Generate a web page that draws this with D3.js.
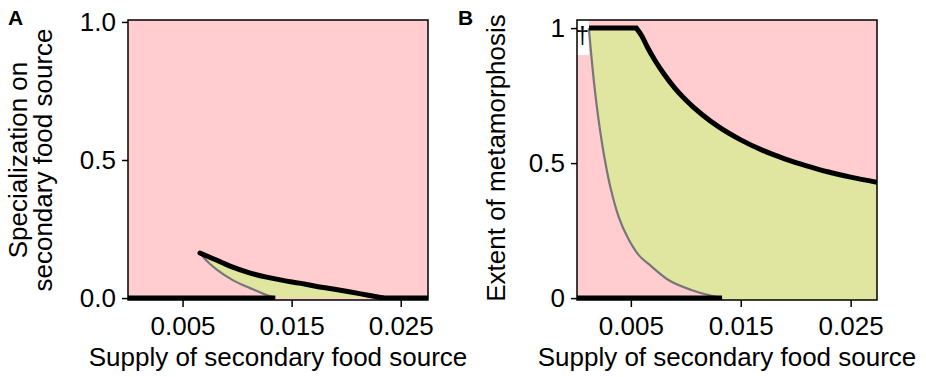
<!DOCTYPE html>
<html>
<head>
<meta charset="utf-8">
<script src="https://cdn.jsdelivr.net/npm/d3@7"></script>
<style>
  html, body { margin: 0; padding: 0; background: #fff; }
  svg text { font-family: "Liberation Sans", Arial, sans-serif; fill: #000; }
</style>
</head>
<body>
<svg id="chart" width="926" height="377"></svg>
<script>
// Panel A: specialization on the secondary food source vs. its supply
const supplyA_upper = [0.0066, 0.0075, 0.0087, 0.0096, 0.0110, 0.0127, 0.0142, 0.0157, 0.0172, 0.0188, 0.0204, 0.0219, 0.0234];
const specA_upper   = [0.163, 0.148, 0.127, 0.112, 0.093, 0.076, 0.064, 0.054, 0.043, 0.033, 0.022, 0.011, 0.0];
const supplyA_lower = [0.0066, 0.0069, 0.0075, 0.0082, 0.0096, 0.0112, 0.0127, 0.0135];
const specA_lower   = [0.163, 0.149, 0.124, 0.101, 0.065, 0.036, 0.011, 0.0];
// stable generalist (specialization = 0) segments
const specA_zeroSegments = [[0, 0.0135], [0.0232, 0.0275]];

// Panel B: extent of metamorphosis vs. supply
const supplyB_flat = [0.0012, 0.0055];
const metaB_flat   = [1.0, 1.0];
const supplyB_upper = [0.0055, 0.0060, 0.0065, 0.0072, 0.0080, 0.0090, 0.0100, 0.0115, 0.0130, 0.0150, 0.0170, 0.0190, 0.0210, 0.0230, 0.0250, 0.0274];
const metaB_upper   = [1.0, 0.971, 0.930, 0.880, 0.831, 0.778, 0.734, 0.679, 0.634, 0.586, 0.547, 0.516, 0.490, 0.467, 0.448, 0.429];
const supplyB_lower = [0.00118, 0.0014, 0.0017, 0.0021, 0.0026, 0.0032, 0.0039, 0.0047, 0.0057, 0.0068, 0.0085, 0.0105, 0.0120, 0.0133];
const metaB_lower   = [1.0, 0.90, 0.78, 0.65, 0.52, 0.40, 0.30, 0.225, 0.16, 0.12, 0.065, 0.03, 0.012, 0.0];
const metaB_zeroSegment = [0.0001, 0.0133];

const xTicks = [0.005, 0.015, 0.025];
const yTicksA = [0, 0.5, 1];
const yTickLabelsA = ["0.0", "0.5", "1.0"];
const yTicksB = [0, 0.5, 1];
const yTickLabelsB = ["0", "0.5", "1"];

const xLabel = "Supply of secondary food source";
const yLabelA = ["Specialization on", "secondary food source"];
const yLabelB = "Extent of metamorphosis";

const PINK = "#ffcccf";
const GREEN = "#e0e6a0";
const GREY = "#777777";
const FONT = 26;

const svg = d3.select("#chart");

function zip(xs, ys) { return xs.map((x, i) => [x, ys[i]]); }

function panel(opts) {
  const { left, right, top, bottom, xDomain, yDomain, id } = opts;
  const x = d3.scaleLinear().domain(xDomain).range([left, right]);
  const y = d3.scaleLinear().domain(yDomain).range([bottom, top]);
  const g = svg.append("g");
  g.append("clipPath").attr("id", id).append("rect")
    .attr("x", left).attr("y", top).attr("width", right - left).attr("height", bottom - top);
  const inner = g.append("g").attr("clip-path", `url(#${id})`);
  inner.append("rect").attr("x", left).attr("y", top)
    .attr("width", right - left).attr("height", bottom - top).attr("fill", PINK);
  const line = d3.line().x(d => x(d[0])).y(d => y(d[1])).curve(d3.curveMonotoneX);
  const lineY = d3.line().x(d => x(d[0])).y(d => y(d[1])).curve(d3.curveCatmullRom.alpha(0.5));
  const lineStraight = d3.line().x(d => x(d[0])).y(d => y(d[1]));
  return { x, y, g, inner, line, lineY, lineStraight, ...opts };
}

function axes(p, yTicks, yTickLabels) {
  const { x, y, g, left, right, top, bottom } = p;
  g.append("g").attr("transform", `translate(0,${bottom})`)
    .call(d3.axisBottom(x).tickValues(xTicks).tickSize(7).tickPadding(10).tickFormat(d3.format(".3f")))
    .call(s => s.select(".domain").remove())
    .call(s => s.selectAll("line").attr("stroke", "#000").attr("stroke-width", 1.5))
    .call(s => s.selectAll("text").attr("font-size", FONT).attr("font-family", "Liberation Sans, Arial, sans-serif"));
  g.append("g").attr("transform", `translate(${left},0)`)
    .call(d3.axisLeft(y).tickValues(yTicks).tickSize(6).tickPadding(6).tickFormat((d, i) => yTickLabels[i]))
    .call(s => s.select(".domain").remove())
    .call(s => s.selectAll("line").attr("stroke", "#000").attr("stroke-width", 1.5))
    .call(s => s.selectAll("text").attr("font-size", FONT).attr("font-family", "Liberation Sans, Arial, sans-serif"));
  g.append("rect").attr("x", left).attr("y", top)
    .attr("width", right - left).attr("height", bottom - top)
    .attr("fill", "none").attr("stroke", "#000").attr("stroke-width", 1.5);
  g.append("text").attr("x", (left + right) / 2).attr("y", 366)
    .attr("text-anchor", "middle").attr("font-size", FONT).text(xLabel);
}

// ---------- Panel A ----------
const A = panel({ id: "clipA", left: 128, right: 428, top: 20, bottom: 300,
  xDomain: [0, 0.0275], yDomain: [-0.007, 1.007] });
{
  const upper = zip(supplyA_upper, specA_upper);
  const lower = zip(supplyA_lower, specA_lower);
  const lowerRev = lower.slice().reverse();
  // region between the two branches, closed along specialization = 0
  const fillD = A.line(upper) +
    "L" + A.x(lower[lower.length - 1][0]) + "," + A.y(0) +
    A.line(lowerRev).replace(/^M/, "L") + "Z";
  A.inner.append("path").attr("d", fillD).attr("fill", GREEN);
  A.inner.append("path").attr("d", A.line(lowerRev)).attr("fill", "none")
    .attr("stroke", GREY).attr("stroke-width", 2.2);
  A.inner.append("path").attr("d", A.line(upper)).attr("fill", "none")
    .attr("stroke", "#000").attr("stroke-width", 5).attr("stroke-linecap", "round");
  specA_zeroSegments.forEach(s => {
    A.inner.append("line").attr("x1", A.x(s[0])).attr("x2", A.x(s[1]))
      .attr("y1", A.y(0)).attr("y2", A.y(0)).attr("stroke", "#000").attr("stroke-width", 5);
  });
}
axes(A, yTicksA, yTickLabelsA);
A.g.append("text").attr("transform", "translate(27,160) rotate(-90)")
  .attr("text-anchor", "middle").attr("font-size", FONT).text(yLabelA[0]);
A.g.append("text").attr("transform", "translate(52,160) rotate(-90)")
  .attr("text-anchor", "middle").attr("font-size", FONT).text(yLabelA[1]);
svg.append("text").attr("x", 8).attr("y", 25).attr("font-size", 21)
  .attr("font-weight", "bold").text("A");

// ---------- Panel B ----------
const B = panel({ id: "clipB", left: 577, right: 877, top: 20, bottom: 300,
  xDomain: [0.0001, 0.0274], yDomain: [-0.007, 1.03] });
{
  const flat = zip(supplyB_flat, metaB_flat);
  const upper = zip(supplyB_upper, metaB_upper);
  const lower = zip(supplyB_lower, metaB_lower);
  const [x0, x1] = B.x.domain();
  const [y0, y1] = B.y.domain();
  // unexplored corner left of the lower branch
  B.inner.append("rect").attr("x", B.x(x0)).attr("y", B.y(y1))
    .attr("width", B.x(supplyB_lower[0]) - B.x(x0)).attr("height", B.y(0.9) - B.y(y1))
    .attr("fill", "#fff");
  const topD = B.lineStraight(flat) + B.line(upper).replace(/^M/, "L");
  const lowerRev = lower.slice().reverse();
  const fillD = B.lineY(lowerRev) +
    topD.replace(/^M/, "L") +
    "L" + B.x(x1) + "," + B.y(y0) +
    "L" + B.x(lower[lower.length - 1][0]) + "," + B.y(y0) + "Z";
  B.inner.append("path").attr("d", fillD).attr("fill", GREEN);
  B.inner.append("path").attr("d", B.lineY(lower)).attr("fill", "none")
    .attr("stroke", GREY).attr("stroke-width", 2.2);
  B.inner.append("path").attr("d", topD).attr("fill", "none")
    .attr("stroke", "#000").attr("stroke-width", 5).attr("stroke-linejoin", "miter");
  B.inner.append("line").attr("x1", B.x(metaB_zeroSegment[0])).attr("x2", B.x(metaB_zeroSegment[1]))
    .attr("y1", B.y(0)).attr("y2", B.y(0)).attr("stroke", "#000").attr("stroke-width", 5);
  B.inner.append("text").attr("x", B.x(0.0006)).attr("y", 43)
    .attr("text-anchor", "middle").attr("font-size", 24).text("\u2020");
}
axes(B, yTicksB, yTickLabelsB);
B.g.append("text").attr("transform", "translate(505,158) rotate(-90)")
  .attr("text-anchor", "middle").attr("font-size", FONT).text(yLabelB);
svg.append("text").attr("x", 458).attr("y", 25).attr("font-size", 21)
  .attr("font-weight", "bold").text("B");
</script>
</body>
</html>
